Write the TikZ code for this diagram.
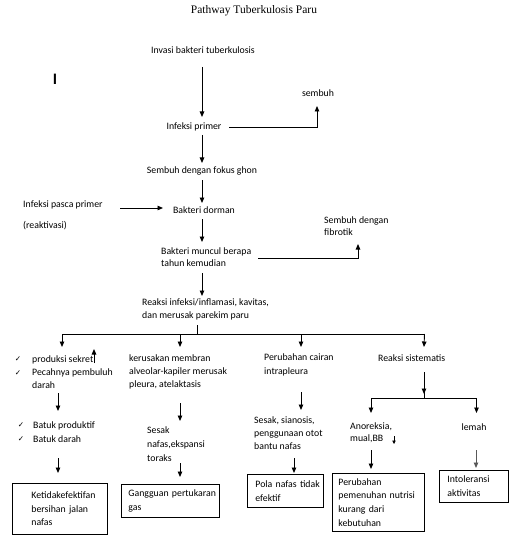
\documentclass[tikz,border=0pt]{standalone}
\usepackage{fontspec}
\setmainfont{Carlito}
\newfontfamily\titlefont{Liberation Serif}
\newfontfamily\symfont{DejaVu Sans}
\usetikzlibrary{arrows.meta}
\newcommand\nohyph{\hyphenpenalty=10000\relax\exhyphenpenalty=10000\relax\hbadness=10000\relax\hfuzz=200pt\relax}
\begin{document}
\begin{tikzpicture}[x=1pt,y=-1pt,
  txt/.style={inner sep=0pt, font=\fontsize{9.8}{13}\selectfont, align=left},
  ltxt/.style={txt, anchor=west},
  sp12/.style={font=\fontsize{9.8}{12}\selectfont},
  sp14/.style={font=\fontsize{9.8}{14}\selectfont},
  chk/.style={inner sep=0pt, font=\symfont\fontsize{7.5}{8}\selectfont},
  arr/.style={line width=0.9pt, -{Triangle[length=5.5pt,width=4.5pt]}},
  smallarr/.style={line width=0.8pt, -{Triangle[length=3.5pt,width=3.5pt]}},
  ln/.style={line width=0.9pt, line cap=rect},
  boxn/.style={draw, line width=0.8pt, anchor=north west, inner ysep=0pt, align=left,
    font={\fontsize{9.8}{13.7}\selectfont\nohyph}}
]
\useasboundingbox (0,0) rectangle (509,540);

% title and stray cursor mark
\node[inner sep=0pt, font=\titlefont\fontsize{11.5}{12}\selectfont] (title) at (254,11) {Pathway Tuberkulosis Paru};
\node[inner sep=0pt, font=\fontsize{16}{16}\selectfont\bfseries] (cur) at (55,79) {I};

% upper chain
\node[txt] (inv) at (203,50) {Invasi bakteri tuberkulosis};
\node[txt] (prim) at (194,127) {Infeksi primer};
\node[txt] (semb) at (318,93) {sembuh};
\node[txt] (ghon) at (202,171) {Sembuh dengan fokus ghon};
\node[ltxt] (pasca) at (23,205) {Infeksi pasca primer};
\node[ltxt] (react) at (23,226) {(reaktivasi)};
\node[txt] (dorm) at (204,210) {Bakteri dorman};
\node[ltxt, sp12] (munc) at (161,257) {Bakteri muncul berapa\\tahun kemudian};
\node[ltxt, sp12] (fibr) at (324,226) {Sembuh dengan\\fibrotik};
\node[ltxt] (reak) at (142,309.5) {Reaksi infeksi/inflamasi, kavitas,\\dan merusak parekim paru};

\draw[arr] ([shift={(-1,17)}]inv.center) -- ([shift={(8,-10)}]prim.center);
\draw[arr] ([shift={(35,0)}]prim.center) -| ([shift={(-1,13)}]semb.center);
\draw[arr] ([shift={(8,8)}]prim.center) -- ([shift={(0,-8)}]ghon.center);
\draw[arr] ([shift={(0,9)}]ghon.center) -- ([shift={(-2,-7)}]dorm.center);
\draw[arr] ([shift={(97,3)}]pasca.west) -- ([shift={(-41,-2)}]dorm.center);
\draw[arr] ([shift={(-2,9)}]dorm.center) -- ([shift={(41,-15)}]munc.west);
\draw[arr] ([shift={(97,1)}]munc.west) -| ([shift={(34,18)}]fibr.west);
\draw[arr] ([shift={(41,16)}]munc.west) -- ([shift={(60,-13.5)}]reak.west);

% bus
\coordinate (bus) at (197,334);
\coordinate (b1) at (62,334);
\coordinate (b2) at (180,334);
\coordinate (b3) at (301,334);
\coordinate (b4) at (424.5,334);
\draw[ln] ([shift={(55,15.5)}]reak.west) -- (bus);
\draw[ln] (b1) -- (b4);

% column 1
\node[ltxt] (sek) at (32,372) {produksi sekret\\Pecahnya pembuluh\\darah};
\node[chk] (c1) at (18,359) {✓};
\node[chk] (c2) at (18,373) {✓};
\node[ltxt, sp14] (bat) at (33,432) {Batuk produktif\\Batuk darah};
\node[chk] (c3) at (21,425) {✓};
\node[chk] (c4) at (21,439) {✓};
\node[boxn, minimum width=95pt, minimum height=51pt, inner xsep=19pt, text width=57pt] (box1) at (12,483) {\mbox{Ketidakefektifan}\\\mbox{bersihan jalan}\\\mbox{nafas}};
\draw[arr] (b1) -- ([shift={(30,-25)}]sek.west);
\draw[arr] ([shift={(62,-9)}]sek.west) -- ([shift={(62,-23)}]sek.west);
\draw[arr] ([shift={(26,21)}]sek.west) -- ([shift={(25,-21)}]bat.west);
\draw[arr] ([shift={(25,26)}]bat.west) -- ([shift={(46,-10)}]box1.north west);

% column 2
\node[ltxt] (ker) at (129,371.5) {kerusakan membran\\alveolar-kapiler merusak\\pleura, atelaktasis};
\node[ltxt, sp14] (ses) at (147,444) {Sesak\\nafas,ekspansi\\toraks};
\node[boxn, minimum width=98pt, minimum height=33pt, inner xsep=7pt, text width=84pt] (box2) at (121,484) {\mbox{Gangguan pertukaran}\\\mbox{gas}};
\draw[arr] (b2) -- ([shift={(51,-24.5)}]ker.west);
\draw[arr] ([shift={(51,31.5)}]ker.west) -- ([shift={(33,-23)}]ses.west);
\draw[arr] ([shift={(33,19)}]ses.west) -- ([shift={(59,-7)}]box2.north west);

% column 3
\node[ltxt, sp14] (cair) at (264,365) {Perubahan cairan\\intrapleura};
\node[ltxt] (sian) at (254,433) {Sesak, sianosis,\\penggunaan otot\\bantu nafas};
\node[boxn, minimum width=76pt, minimum height=33pt, inner xsep=8pt, text width=60pt] (box3) at (247,474) {\mbox{Pola nafas tidak}\\\mbox{efektif}};
\draw[arr] (b3) -- ([shift={(37,-18)}]cair.west);
\draw[arr] ([shift={(37,27)}]cair.west) -- ([shift={(47,-23)}]sian.west);
\draw[arr] ([shift={(40,25)}]sian.west) -- ([shift={(47,-1)}]box3.north west);

% column 4
\node[ltxt] (sist) at (378,358) {Reaksi sistematis};
\node[ltxt, sp12] (anor) at (350,433) {Anoreksia,\\mual,BB};
\node[txt] (lemah) at (474,427) {lemah};
\node[boxn, minimum width=92pt, minimum height=58pt, inner xsep=6pt, text width=80pt] (box4) at (332,473) {\mbox{Perubahan}\\\mbox{pemenuhan nutrisi}\\\mbox{kurang dari}\\\mbox{kebutuhan}};
\node[boxn, minimum width=69pt, minimum height=32pt, inner xsep=8pt, text width=53pt] (box5) at (439,470) {\mbox{Intoleransi}\\\mbox{aktivitas}};
\draw[arr] (b4) -- ([shift={(46,-11)}]sist.west);
\coordinate (j4) at (424,398);
\coordinate (j4L) at (371,398);
\coordinate (j4R) at (476.5,398);
\draw[arr] ([shift={(46,14)}]sist.west) -- ([shift={(0,-4)}]j4);
\draw[ln] ([shift={(0,-6)}]j4) -- (j4);
\draw[ln] (j4L) -- (j4R);
\draw[arr] (j4L) -- ([shift={(21,-20)}]anor.west);
\draw[arr] (j4R) -- ([shift={(2.5,-14)}]lemah.center);
\draw[smallarr] ([shift={(44,3)}]anor.west) -- ([shift={(44,11)}]anor.west);
\draw[arr] ([shift={(21,17)}]anor.west) -- ([shift={(39,-4)}]box4.north west);
\draw[arr, draw=black!65, fill=black!65] ([shift={(2,23)}]lemah.center) -- ([shift={(37,-2)}]box5.north west);
\end{tikzpicture}
\end{document}
